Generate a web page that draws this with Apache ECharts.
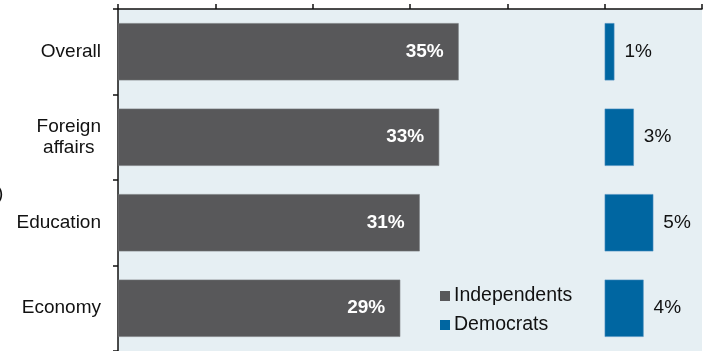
<!DOCTYPE html>
<html>
<head>
<meta charset="utf-8">
<script src="https://cdn.jsdelivr.net/npm/echarts@6/dist/echarts.min.js"></script>
<style>
  html, body { margin: 0; padding: 0; background: #ffffff; }
  #chart { width: 704px; height: 351px; }
</style>
</head>
<body>
<div id="chart"></div>
<script>
// Topics and shares (%) by group
const categories = ['Overall', 'Foreign\naffairs', 'Education', 'Economy'];
const independents = [35, 33, 31, 29];
const democrats = [1, 3, 5, 4];
// Democrats' bars are drawn starting from this axis value
const democratsOffset = [50, 50, 50, 50];

const FONT = '"Liberation Sans", Arial, sans-serif';
const GRAY = '#58585a';
const BLUE = '#0066a1';

const chart = echarts.init(document.getElementById('chart'), null, { renderer: 'canvas' });

chart.setOption({
  animation: false,
  textStyle: { fontFamily: FONT },
  grid: {
    left: 118, right: 2, top: 9, height: 342,
    show: true, backgroundColor: '#e6eff3', borderWidth: 0
  },
  legend: {
    orient: 'vertical',
    left: 440, top: 286, padding: 0,
    itemWidth: 10, itemHeight: 10, itemGap: 9,
    icon: 'rect',
    itemStyle: { borderWidth: 0 },
    textStyle: { fontFamily: FONT, fontSize: 19.5, lineHeight: 20, color: '#111', padding: [0, 0, 0, -1] },
    data: ['Independents', 'Democrats']
  },
  xAxis: {
    type: 'value', position: 'top',
    min: 0, max: 60, interval: 10,
    axisLine: { show: true, lineStyle: { color: '#111', width: 1.5 } },
    axisTick: { show: true, length: 5, lineStyle: { color: '#111', width: 1.5 } },
    axisLabel: { show: false },
    splitLine: { show: false }
  },
  yAxis: {
    type: 'category', inverse: true, data: categories,
    axisLine: { show: true, lineStyle: { color: '#111', width: 1.5 } },
    axisTick: { show: true, length: 5, lineStyle: { color: '#111', width: 1.5 } },
    axisLabel: {
      fontFamily: FONT, fontSize: 19, color: '#111', margin: 17, lineHeight: 21, align: 'right',
      // multi-line names are centred line by line
      formatter: v => v.indexOf('\n') < 0 ? v : v.split('\n').map(s => '{c|' + s + '}').join('\n'),
      rich: { c: { align: 'center', fontFamily: FONT, fontSize: 19, lineHeight: 21, color: '#111' } }
    }
  },
  graphic: [{
    type: 'text', x: -3, y: 184,
    style: { text: ')', font: '19px ' + FONT, fill: '#111' }
  }],
  series: [
    {
      name: 'Independents', type: 'bar',
      data: independents,
      barWidth: '67%', barGap: '-100%',
      itemStyle: { color: GRAY, borderColor: '#76787a', borderWidth: 0.6 },
      label: {
        show: true, position: 'insideRight', distance: 15,
        formatter: '{c}%',
        fontFamily: FONT, fontSize: 19, fontWeight: 'bold', color: '#ffffff'
      }
    },
    {
      name: 'offset', type: 'bar', stack: 'dem',
      data: democratsOffset,
      barWidth: '67%',
      itemStyle: { color: 'transparent' },
      silent: true
    },
    {
      name: 'Democrats', type: 'bar', stack: 'dem',
      data: democrats,
      barWidth: '67%',
      itemStyle: { color: BLUE, borderColor: '#4b8fc0', borderWidth: 0.6 },
      label: {
        show: true, position: 'right', distance: 10,
        formatter: '{c}%',
        fontFamily: FONT, fontSize: 19, color: '#111'
      }
    }
  ]
});
</script>
</body>
</html>
